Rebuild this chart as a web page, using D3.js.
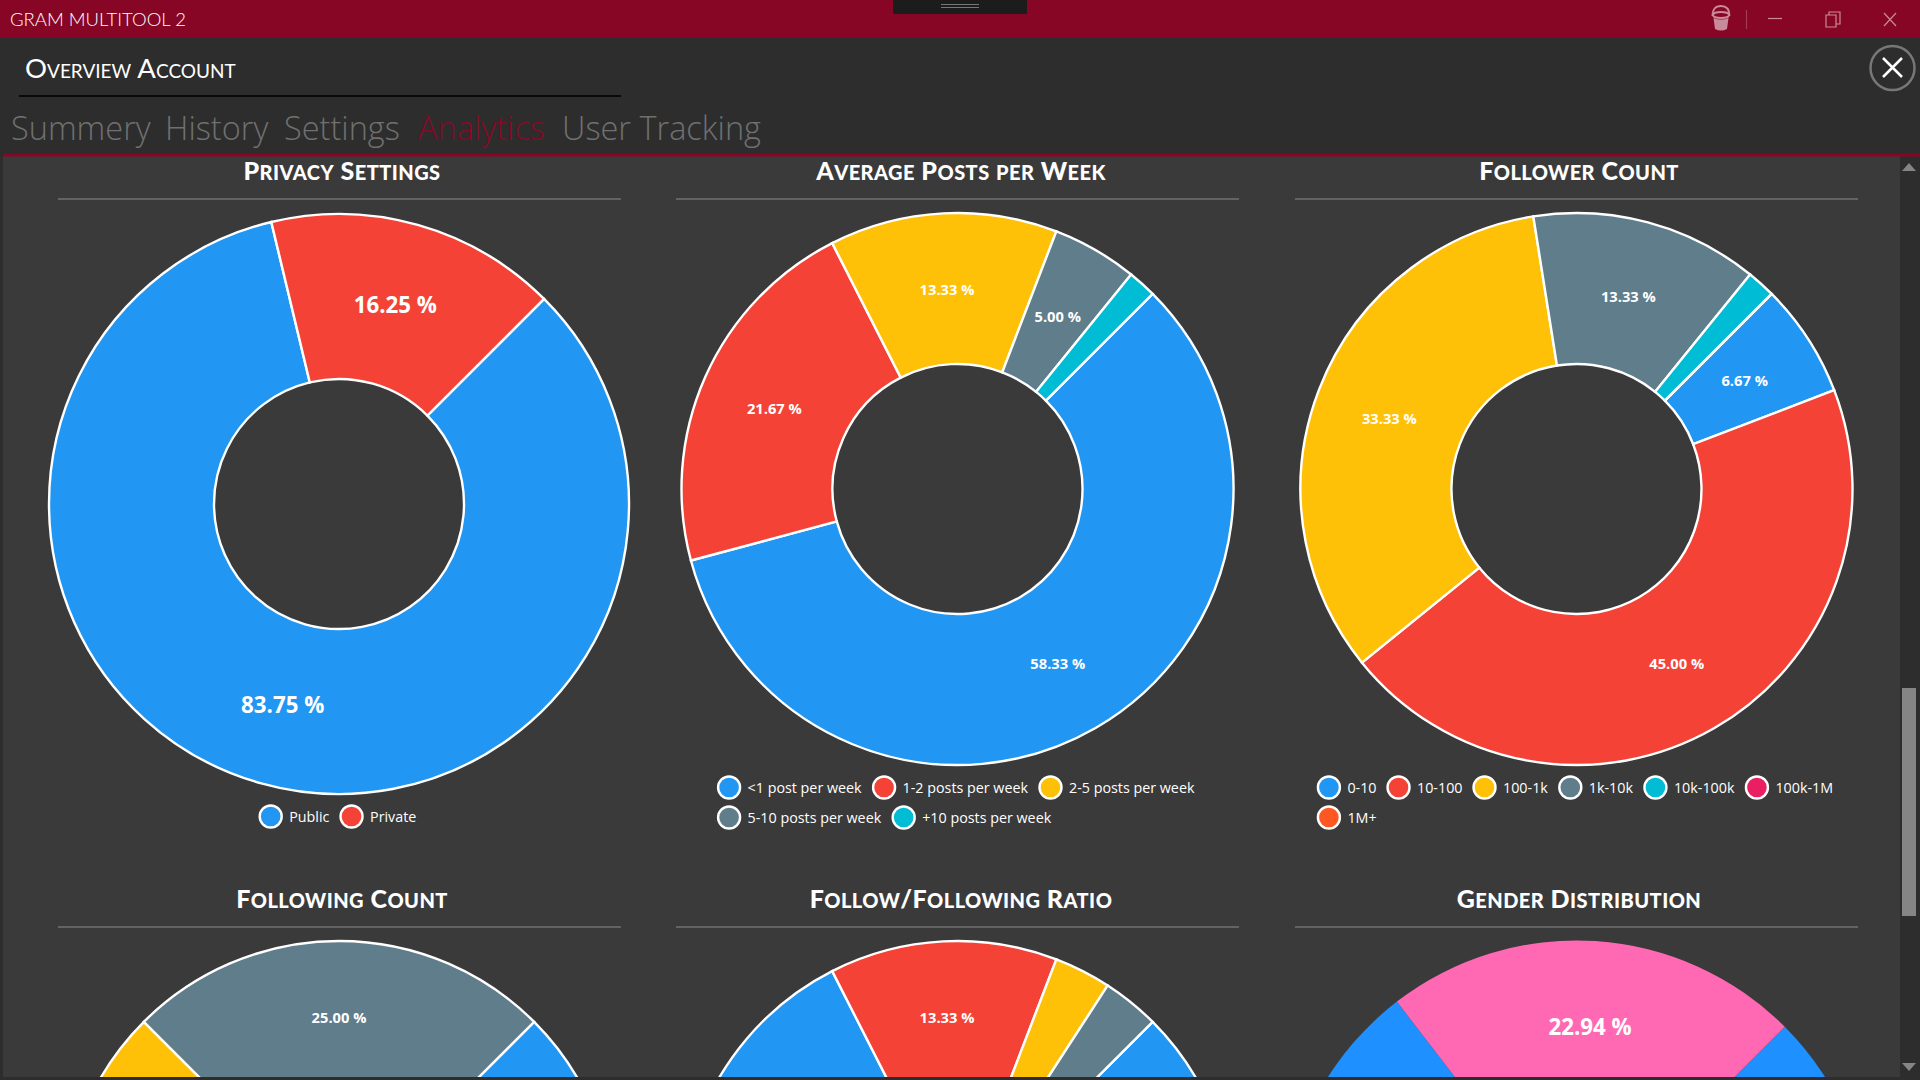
<!DOCTYPE html>
<html>
<head>
<meta charset="utf-8">
<script src="https://d3js.org/d3.v7.min.js"></script>
<style>
  html, body { margin: 0; padding: 0; background: #2d2d2d; overflow: hidden; }
  svg { display: block; }
  .title { font: 900 25px Lato; font-variant: small-caps; letter-spacing: 0.45px; fill: #fff; text-anchor: middle; }
  .title .lower { font-size: 28px; }
  .tab { font: 300 32.5px "Open Sans"; fill: #707070; }
  .legend-text { font: 400 14.3px "Open Sans"; fill: #fff; }
  .slice-label { font-family: "Open Sans"; font-weight: 700; fill: #fff; text-anchor: middle; dominant-baseline: central; }
</style>
</head>
<body>
<div id="app"></div>
<script>
const blue = '#2196F3', red = '#F44336', yellow = '#FFC107', slate = '#607D8B',
  teal = '#00BCD4', pink = '#E91E63', orange = '#FF5722';

const tabs = ['Summery', 'History', 'Settings', 'Analytics', 'User Tracking'];
const tabX = [11, 165, 284, 418, 562];

const privacyLabels = ['Public', 'Private'];
const privacyValues = [83.75, 16.25];
const privacyColors = [blue, red];

const postsLabels = ['<1 post per week', '1-2 posts per week', '2-5 posts per week', '5-10 posts per week', '+10 posts per week'];
const postsValues = [58.33, 21.67, 13.33, 5.00, 1.67];
const postsColors = [blue, red, yellow, slate, teal];

const followerLabels = ['0-10', '10-100', '100-1k', '1k-10k', '10k-100k', '100k-1M', '1M+'];
const followerValues = [6.67, 45.00, 33.33, 13.33, 1.67, 0, 0];
const followerColors = [blue, red, yellow, slate, teal, pink, orange];

// bottom row is cut off by the window, only part of it can be read
const followingValues = [20.00, 35.00, 20.00, 25.00];
const followingColors = [blue, red, yellow, slate];

const ratioValues = [80.00, 13.33, 3.33, 3.34];
const ratioColors = [blue, red, yellow, slate];

const genderValues = [77.06, 22.94];
const genderColors = ['#1E90FF', '#FF69B4'];

const width = 1920, height = 1080, panelBottom = 1077;
const svg = d3.select('#app').append('svg').attr('width', width).attr('height', height);

const defs = svg.append('defs');
defs.append('clipPath').attr('id', 'content').append('rect')
  .attr('x', 3).attr('y', 156).attr('width', 1897).attr('height', panelBottom - 156);

// window chrome
svg.append('rect').attr('width', width).attr('height', 38).attr('fill', '#880625');
svg.append('rect').attr('x', 893).attr('width', 134).attr('height', 14).attr('fill', '#1c1c1c');
svg.append('path').attr('d', 'M941,4.5H979M941,7.5H979').attr('stroke', '#777').attr('stroke-width', 1);
svg.append('text').attr('x', 10).attr('y', 26).attr('fill', '#fff')
  .style('font', '300 18.5px Lato').text('GRAM MULTITOOL 2');

const chrome = svg.append('g').attr('stroke', '#c98a9a').attr('fill', 'none').attr('stroke-width', 1.2);
chrome.append('path').attr('d', 'M1768,18.5H1782');
chrome.append('path').attr('d', 'M1826,15H1836V27H1826ZM1829,15V12H1840V24H1836');
chrome.append('path').attr('d', 'M1884,13L1896,26M1896,13L1884,26');
chrome.append('path').attr('d', 'M1746.5,10V29').attr('stroke', '#a33b55');
// paint bucket
chrome.append('path').attr('d', 'M1712.5,16Q1712.5,6,1721,6Q1729.5,6,1729.5,16').attr('stroke-width', 1.8);
chrome.append('ellipse').attr('cx', 1721).attr('cy', 15).attr('rx', 8).attr('ry', 3).attr('stroke-width', 1.8);
chrome.append('path').attr('d', 'M1713.5,18L1715,29Q1721,32,1727,29L1728.5,18Q1721,21,1713.5,18Z')
  .attr('fill', '#c98a9a').attr('stroke', 'none');

svg.append('text').attr('x', 25).attr('y', 78).attr('fill', '#fff')
  .style('font', '400 27.5px Lato').style('font-variant', 'small-caps').text('Overview Account');
svg.append('rect').attr('x', 19).attr('y', 95).attr('width', 602).attr('height', 2).attr('fill', '#0a0a0a');

svg.selectAll('.tab').data(tabs).join('text')
  .attr('class', 'tab')
  .attr('x', (d, i) => tabX[i])
  .attr('y', 140)
  .style('fill', d => d === 'Analytics' ? '#850a28' : null)
  .text(d => d);

svg.append('circle').attr('cx', 1892.5).attr('cy', 68).attr('r', 22)
  .attr('fill', 'none').attr('stroke', '#777').attr('stroke-width', 2.5);
svg.append('path').attr('d', 'M1883,58L1902,77M1902,58L1883,77').attr('stroke', '#fff').attr('stroke-width', 2.5);

// content panel and scroll bar
svg.append('rect').attr('x', 3).attr('y', 154).attr('width', 1897).attr('height', panelBottom - 154).attr('fill', '#3a3a3a');
svg.append('rect').attr('x', 3).attr('y', 154).attr('width', 1917).attr('height', 2.5).attr('fill', '#880625');
svg.append('rect').attr('x', 1902).attr('y', 688).attr('width', 14).attr('height', 228).attr('fill', '#858585');
svg.append('path').attr('d', 'M1909,163L1902,171H1916Z').attr('fill', '#858585');
svg.append('path').attr('d', 'M1909,1071L1902,1063H1916Z').attr('fill', '#858585');

const content = svg.append('g').attr('clip-path', 'url(#content)');

const startAngle = Math.PI / 4;
const pie = d3.pie().sort(null).startAngle(startAngle).endAngle(startAngle + 2 * Math.PI);

function drawTitle(title, x, y) {
  const text = content.append('text').attr('class', 'title').attr('x', x).attr('y', y);
  // the original small caps are taller than the synthesized ones
  title.match(/[a-z]+|[^a-z]+/g).forEach(part => {
    text.append('tspan').classed('lower', /[a-z]/.test(part)).text(part);
  });
}

function drawDonut(opts) {
  const { title, ruleX, titleX, titleY, ruleY, cx, cy, radius, values, colors, labels, fontSize, stroke } = opts;

  drawTitle(title, titleX, titleY);
  content.append('line')
    .attr('x1', ruleX).attr('x2', ruleX + 563)
    .attr('y1', ruleY).attr('y2', ruleY)
    .attr('stroke', '#8c8c8c').attr('stroke-width', 1.2);

  const arc = d3.arc().innerRadius(125).outerRadius(radius - (stroke ? 1 : 0));
  const g = content.append('g').attr('transform', `translate(${cx},${cy})`);
  const arcs = pie(values);

  g.selectAll('path').data(arcs).join('path')
    .attr('d', arc)
    .attr('fill', (d, i) => colors[i])
    .attr('stroke', stroke ? '#fff' : 'none')
    .attr('stroke-width', 2.4);

  // small slices get no label, and labels below the window are not drawn
  const labelled = arcs.filter(d => d.value >= 5 && cy + arc.centroid(d)[1] < panelBottom - 10);
  g.selectAll('text').data(labelled).join('text')
    .attr('class', 'slice-label')
    .attr('transform', d => {
      const [x, y] = arc.centroid(d);
      return `translate(${x},${y + 0.5})`;
    })
    .style('font-size', `${fontSize}px`)
    .text(d => `${d.value.toFixed(2)} %`);

  if (labels) drawLegend(cx, cy + radius + 21.5, labels, colors);
}

// flow layout like the app: left aligned rows, block centred under the chart
function drawLegend(cx, top, labels, colors) {
  const maxWidth = 530, rowHeight = 30;
  const legend = content.append('g');
  const items = legend.selectAll('g').data(labels).join('g');
  items.append('circle').attr('cx', 12.5).attr('cy', 0).attr('r', 11)
    .attr('fill', (d, i) => colors[i]).attr('stroke', '#fff').attr('stroke-width', 2.4);
  items.append('text').attr('class', 'legend-text').attr('x', 31).attr('y', 5.5).text(d => d);

  let x = 0, row = 0, widest = 0;
  const spots = [];
  items.each(function () {
    const w = this.getBBox().width + 1;
    if (x > 0 && x + w > maxWidth) { x = 0; row += 1; }
    spots.push([x, row]);
    x += w + 10;
    widest = Math.max(widest, x - 10);
  });
  items.attr('transform', (d, i) => `translate(${spots[i][0]},${spots[i][1] * rowHeight})`);
  legend.attr('transform', `translate(${cx - 2 - widest / 2},${top})`);
}

drawDonut({ title: 'Privacy Settings', titleX: 342, titleY: 180, ruleX: 58, ruleY: 199, cx: 339, cy: 504, radius: 291,
  values: privacyValues, colors: privacyColors, labels: privacyLabels, fontSize: 22.3, stroke: true });
drawDonut({ title: 'Average Posts per Week', titleX: 961, titleY: 180, ruleX: 676, ruleY: 199, cx: 957.5, cy: 489, radius: 277,
  values: postsValues, colors: postsColors, labels: postsLabels, fontSize: 14.7, stroke: true });
drawDonut({ title: 'Follower Count', titleX: 1579, titleY: 180, ruleX: 1295, ruleY: 199, cx: 1576.5, cy: 489, radius: 277,
  values: followerValues, colors: followerColors, labels: followerLabels, fontSize: 14.7, stroke: true });

drawDonut({ title: 'Following Count', titleX: 342, titleY: 908, ruleX: 58, ruleY: 927, cx: 339, cy: 1217, radius: 277,
  values: followingValues, colors: followingColors, fontSize: 14.7, stroke: true });
drawDonut({ title: 'Follow/Following Ratio', titleX: 961, titleY: 908, ruleX: 676, ruleY: 927, cx: 957.5, cy: 1217, radius: 277,
  values: ratioValues, colors: ratioColors, fontSize: 14.7, stroke: true });
drawDonut({ title: 'Gender Distribution', titleX: 1579, titleY: 908, ruleX: 1295, ruleY: 927, cx: 1576.5, cy: 1235, radius: 294.5,
  values: genderValues, colors: genderColors, fontSize: 22.3, stroke: false });
</script>
</body>
</html>
